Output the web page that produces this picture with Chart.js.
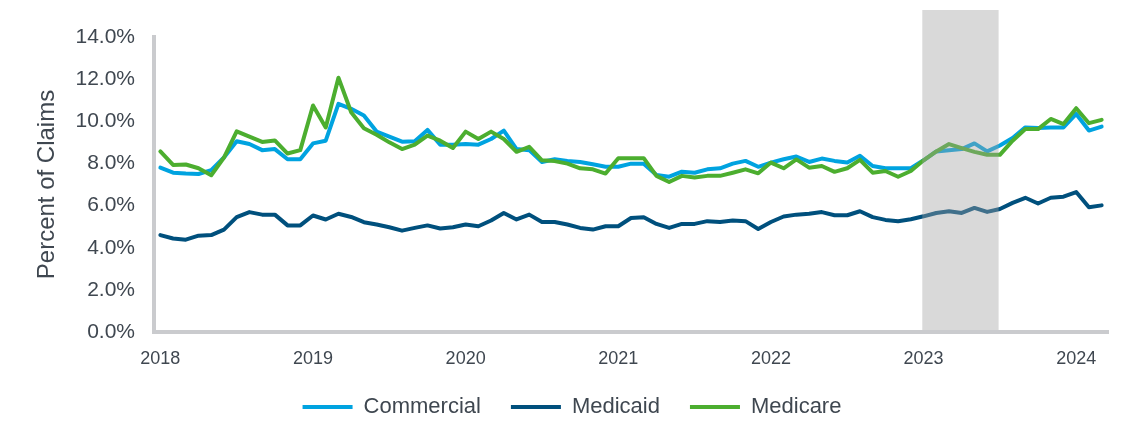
<!DOCTYPE html>
<html>
<head>
<meta charset="utf-8">
<script src="https://cdn.jsdelivr.net/npm/chart.js@4/dist/chart.umd.min.js"></script>
<style>
  body { margin: 0; background: #fff; }
  #wrap { width: 1130px; height: 436px; }
</style>
</head>
<body>
<div id="wrap"><canvas id="claimsChart" width="1130" height="436"></canvas></div>
<script>
// Monthly share of claims, Jan 2018 - Mar 2024
const months = [
  '2018-01','2018-02','2018-03','2018-04','2018-05','2018-06','2018-07','2018-08','2018-09','2018-10','2018-11','2018-12',
  '2019-01','2019-02','2019-03','2019-04','2019-05','2019-06','2019-07','2019-08','2019-09','2019-10','2019-11','2019-12',
  '2020-01','2020-02','2020-03','2020-04','2020-05','2020-06','2020-07','2020-08','2020-09','2020-10','2020-11','2020-12',
  '2021-01','2021-02','2021-03','2021-04','2021-05','2021-06','2021-07','2021-08','2021-09','2021-10','2021-11','2021-12',
  '2022-01','2022-02','2022-03','2022-04','2022-05','2022-06','2022-07','2022-08','2022-09','2022-10','2022-11','2022-12',
  '2023-01','2023-02','2023-03','2023-04','2023-05','2023-06','2023-07','2023-08','2023-09','2023-10','2023-11','2023-12',
  '2024-01','2024-02','2024-03'
];

const commercial = [
  7.80, 7.56, 7.52, 7.50, 7.68, 8.28, 9.05, 8.92, 8.63, 8.68, 8.20, 8.20,
  8.95, 9.08, 10.83, 10.59, 10.27, 9.51, 9.27, 9.03, 9.05, 9.59, 8.89, 8.89,
  8.92, 8.89, 9.16, 9.56, 8.68, 8.63, 8.07, 8.20, 8.12, 8.07, 7.96, 7.84,
  7.84, 7.99, 7.99, 7.45, 7.37, 7.61, 7.56, 7.72, 7.77, 7.99, 8.12, 7.84,
  8.04, 8.20, 8.33, 8.07, 8.23, 8.12, 8.04, 8.36, 7.88, 7.77, 7.77, 7.77,
  8.15, 8.57, 8.63, 8.68, 8.95, 8.57, 8.85, 9.21, 9.71, 9.68, 9.71, 9.71,
  10.35, 9.56, 9.75
];

const medicaid = [
  4.60, 4.44, 4.38, 4.57, 4.60, 4.86, 5.45, 5.69, 5.57, 5.57, 5.06, 5.06,
  5.53, 5.34, 5.61, 5.46, 5.21, 5.10, 4.97, 4.81, 4.94, 5.06, 4.91, 4.97,
  5.10, 5.02, 5.29, 5.65, 5.34, 5.57, 5.22, 5.22, 5.10, 4.94, 4.86, 5.02,
  5.02, 5.41, 5.45, 5.13, 4.94, 5.13, 5.13, 5.26, 5.22, 5.29, 5.26, 4.89,
  5.22, 5.48, 5.57, 5.61, 5.69, 5.54, 5.54, 5.73, 5.45, 5.32, 5.26, 5.35,
  5.49, 5.65, 5.73, 5.65, 5.89, 5.70, 5.84, 6.13, 6.37, 6.10, 6.37, 6.42,
  6.64, 5.92, 6.01
];

const medicare = [
  8.57, 7.93, 7.95, 7.77, 7.44, 8.28, 9.52, 9.27, 9.02, 9.09, 8.47, 8.63,
  10.75, 9.71, 12.07, 10.43, 9.67, 9.36, 9.00, 8.68, 8.89, 9.32, 9.08, 8.73,
  9.51, 9.16, 9.51, 9.16, 8.55, 8.79, 8.15, 8.11, 7.99, 7.77, 7.72, 7.52,
  8.25, 8.25, 8.25, 7.41, 7.12, 7.41, 7.33, 7.41, 7.41, 7.56, 7.72, 7.53,
  8.04, 7.77, 8.19, 7.80, 7.88, 7.60, 7.77, 8.17, 7.56, 7.64, 7.37, 7.64,
  8.15, 8.57, 8.92, 8.73, 8.55, 8.41, 8.41, 9.08, 9.63, 9.63, 10.11, 9.87,
  10.62, 9.91, 10.07
];

// shaded period (in month index units)
const shadeFrom = 59.9;
const shadeTo = 65.9;

const textColor = '#3f4750';
const axisColor = '#cacbce';
const fontFamily = 'Liberation Sans, Arial, sans-serif';

// grey band drawn over the lines
const shadePlugin = {
  id: 'shadeBand',
  afterDatasetsDraw(chart) {
    const x = chart.scales.x, y = chart.scales.y;
    const ctx = chart.ctx;
    const x0 = x.getPixelForValue(shadeFrom);
    const x1 = x.getPixelForValue(shadeTo);
    const top = y.top - 27;
    const bottom = y.getPixelForValue(0) - 2;
    ctx.save();
    ctx.fillStyle = 'rgba(160,160,160,0.4)';
    ctx.fillRect(x0, top, x1 - x0, bottom - top);
    ctx.restore();
  }
};

const ctx = document.getElementById('claimsChart').getContext('2d');
new Chart(ctx, {
  type: 'line',
  data: {
    labels: months,
    datasets: [
      { label: 'Commercial', data: commercial, borderColor: '#00a3e0', backgroundColor: '#00a3e0', order: 3 },
      { label: 'Medicaid', data: medicaid, borderColor: '#00507d', backgroundColor: '#00507d', order: 2 },
      { label: 'Medicare', data: medicare, borderColor: '#4cae2f', backgroundColor: '#4cae2f', order: 1 }
    ]
  },
  options: {
    responsive: false,
    animation: false,
    layout: { padding: { top: 37, right: 22, bottom: 8, left: 36 } },
    elements: {
      point: { radius: 0 },
      line: { borderWidth: 4, tension: 0, borderCapStyle: 'round', borderJoinStyle: 'round' }
    },
    plugins: {
      tooltip: { enabled: false },
      legend: {
        position: 'bottom',
        maxHeight: 72,
        labels: {
          color: textColor,
          font: { family: fontFamily, size: 22 },
          boxWidth: 50,
          boxHeight: 4,
          padding: 30,
          sort: (a, b) => a.datasetIndex - b.datasetIndex,
          generateLabels(chart) {
            const items = Chart.defaults.plugins.legend.labels.generateLabels(chart);
            items.forEach(it => { it.lineWidth = 0; });
            return items;
          }
        }
      }
    },
    scales: {
      x: {
        type: 'category',
        offset: true,
        grid: { display: false, drawTicks: false },
        border: { display: true, color: axisColor, width: 4 },
        ticks: {
          autoSkip: false,
          maxRotation: 0,
          padding: 16,
          color: textColor,
          font: { family: fontFamily, size: 18 },
          callback(val, idx) {
            const m = months[idx];
            return m.endsWith('-01') ? m.slice(0, 4) : '';
          }
        },
        afterFit(scale) { scale.height = 34; }
      },
      y: {
        min: 0,
        max: 14,
        grid: { display: false, drawTicks: false },
        border: { display: true, color: axisColor, width: 4 },
        ticks: {
          stepSize: 2,
          padding: 19,
          color: textColor,
          font: { family: fontFamily, size: 21 },
          callback: v => v.toFixed(1) + '%'
        },
        title: {
          display: true,
          text: 'Percent of Claims',
          color: textColor,
          font: { family: fontFamily, size: 24 },
          padding: { top: -3, bottom: 0 }
        },
        afterFit(scale) { scale.width = 118; }
      }
    }
  },
  plugins: [shadePlugin]
});
</script>
</body>
</html>
